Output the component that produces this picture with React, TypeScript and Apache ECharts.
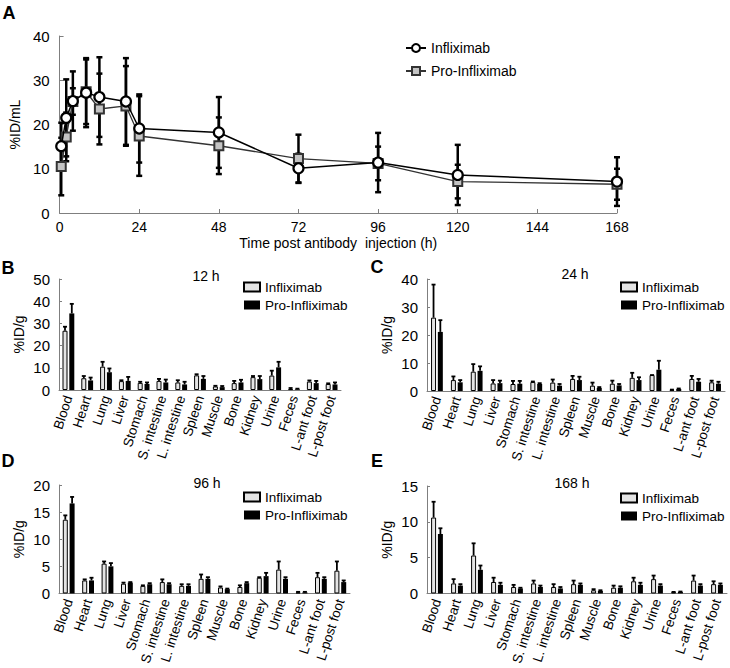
import React, { useEffect, useRef } from "react";
import * as echarts from "echarts";

const FONT = "'Liberation Sans', Arial, sans-serif";

// Panel A: blood kinetics
const timesA = [0.5, 2, 4, 8, 12, 20, 24, 48, 72, 96, 120, 168];
const inflixA = [15.1, 21.5, 25.3, 27.2, 26.2, 25.2, 19.1, 18.2, 10.1, 11.4, 8.6, 7.1];
const inflixSdA = [5.3, 8.7, 6.7, 7.8, 9.0, 9.8, 7.7, 8.0, 3.3, 6.7, 6.8, 5.5];
const proA = [10.5, 17.2, 25.2, 27.4, 23.5, 24.2, 17.4, 15.2, 12.3, 11.2, 7.1, 6.5];
const proSdA = [6.5, 5.5, 3.0, 7.3, 8.0, 9.0, 9.0, 6.4, 5.4, 3.8, 3.8, 3.5];

// Biodistribution
const organs = ["Blood", "Heart", "Lung", "Liver", "Stomach", "S. intestine", "L. intestine", "Spleen", "Muscle", "Bone", "Kidney", "Urine", "Feces", "L-ant foot", "L-post foot"];

const inf12 = [26.7, 5.3, 10.5, 4.0, 3.2, 4.1, 3.4, 6.6, 1.6, 3.1, 5.8, 6.5, 0.4, 3.8, 2.7];
const infErr12 = [1.8, 1.0, 2.2, 0.4, 0.5, 0.9, 1.0, 0.5, 0.3, 1.0, 0.5, 2.2, 0.5, 0.5, 0.3];
const pro12 = [34.5, 4.3, 8.0, 4.1, 2.7, 3.4, 2.5, 5.0, 1.3, 3.4, 4.9, 10.2, 0.3, 3.1, 2.5];
const proErr12 = [4.3, 1.3, 1.7, 1.8, 0.7, 1.3, 1.2, 1.3, 0.5, 1.2, 1.4, 2.5, 0.3, 1.0, 0.9];

const inf24 = [26.2, 3.9, 6.9, 2.7, 2.5, 3.2, 3.0, 4.3, 1.9, 2.6, 4.7, 5.7, 0.4, 4.3, 3.1];
const infErr24 = [11.8, 1.3, 2.7, 1.2, 1.1, 0.2, 1.1, 1.1, 1.1, 1.1, 1.8, 0, 0.1, 1.1, 0.6];
const pro24 = [21.1, 3.1, 7.2, 2.8, 2.6, 2.5, 1.9, 3.9, 1.1, 2.0, 3.9, 7.6, 0.7, 3.3, 2.6];
const proErr24 = [4.2, 0.8, 1.6, 0.9, 1.0, 0.3, 0.6, 1.2, 0.3, 0.5, 1.0, 3.2, 0.2, 1.0, 0.7];

const inf96 = [13.6, 2.4, 5.5, 1.8, 1.4, 2.1, 1.4, 2.7, 1.1, 1.2, 2.9, 4.4, 0.2, 3.0, 4.2];
const infErr96 = [0.8, 0.2, 0.4, 0.2, 0.1, 0.5, 0.3, 0.8, 0.2, 0.3, 0.1, 1.5, 0.1, 0.8, 1.7];
const pro96 = [16.6, 2.4, 5.0, 2.0, 1.7, 1.7, 1.4, 2.7, 0.8, 1.9, 3.2, 2.7, 0.2, 2.7, 2.1];
const proErr96 = [1.2, 0.5, 0.6, 0.1, 0.2, 0.2, 0.3, 0.3, 0.1, 0.2, 0.6, 0.3, 0.1, 0.3, 0.3];

const inf168 = [10.6, 1.4, 5.3, 1.6, 0.9, 1.4, 0.9, 1.3, 0.45, 0.8, 1.7, 2.0, 0.18, 1.8, 1.3];
const infErr168 = [2.2, 0.6, 1.7, 0.6, 0.3, 0.4, 0.4, 0.5, 0.15, 0.3, 0.5, 0.5, 0.04, 0.7, 0.4];
const pro168 = [8.3, 1.1, 3.3, 1.2, 0.7, 0.9, 0.7, 1.2, 0.36, 0.8, 1.2, 1.1, 0.22, 1.1, 1.2];
const proErr168 = [0.8, 0.2, 0.6, 0.3, 0.1, 0.2, 0.2, 0.2, 0.09, 0.2, 0.3, 0.2, 0.05, 0.2, 0.2];

const AXIS_GRAY = "#7f7f7f";

function lineErr(x: number[], m: number[], sd: number[]) {
  return x.map((t, i) => [t, m[i] - sd[i], m[i] + sd[i]]);
}

function buildOption() {
  const grids: any[] = [
    { left: 59, top: 36, width: 558, height: 177 },
    { left: 59, top: 279, width: 282, height: 111 },
    { left: 427, top: 279, width: 298, height: 112 },
    { left: 59, top: 485, width: 291, height: 111 },
    { left: 427, top: 486, width: 300, height: 110 },
  ];
  const xAxes: any[] = [];
  const yAxes: any[] = [];
  const series: any[] = [];
  const legends: any[] = [];
  const graphics: any[] = [];

  // Panel A axes
  xAxes.push({
    type: "value", gridIndex: 0, min: 0, max: 168, interval: 24,
    name: "Time post antibody  injection (h)", nameLocation: "middle", nameGap: 23,
    nameTextStyle: { fontSize: 14, color: "#000", fontFamily: FONT },
    axisLine: { show: true, lineStyle: { color: AXIS_GRAY, width: 1 } },
    axisTick: { show: true, inside: true, length: 4, lineStyle: { color: AXIS_GRAY } },
    axisLabel: { fontSize: 14, color: "#000", fontFamily: FONT, margin: 7 },
    splitLine: { show: false },
  });
  yAxes.push({
    type: "value", gridIndex: 0, min: 0, max: 40, interval: 10,
    name: "%ID/mL", nameLocation: "middle", nameGap: 35,
    nameTextStyle: { fontSize: 14, color: "#000", fontFamily: FONT },
    axisLine: { show: true, lineStyle: { color: AXIS_GRAY, width: 1 } },
    axisTick: { show: true, inside: true, length: 4, lineStyle: { color: AXIS_GRAY } },
    axisLabel: { fontSize: 15, color: "#000", fontFamily: FONT, margin: 10 },
    splitLine: { show: false },
  });

  const errRender = (width: number) => (params: any, api: any) => {
    const x = api.value(0);
    const lo = api.coord([x, api.value(1)]);
    const hi = api.coord([x, api.value(2)]);
    const st = { stroke: "#000", lineWidth: width };
    return {
      type: "group",
      children: [
        { type: "line", shape: { x1: lo[0], y1: lo[1], x2: hi[0], y2: hi[1] }, style: st },
        { type: "line", shape: { x1: lo[0] - 3, y1: lo[1], x2: lo[0] + 3, y2: lo[1] }, style: st },
        { type: "line", shape: { x1: hi[0] - 3, y1: hi[1], x2: hi[0] + 3, y2: hi[1] }, style: st },
      ],
    };
  };

  series.push({
    type: "custom", name: "errInfA", xAxisIndex: 0, yAxisIndex: 0, z: 1,
    renderItem: errRender(2.5), data: lineErr(timesA, inflixA, inflixSdA),
  });
  series.push({
    type: "custom", name: "errProA", xAxisIndex: 0, yAxisIndex: 0, z: 1,
    renderItem: errRender(2.5), data: lineErr(timesA, proA, proSdA),
  });
  series.push({
    type: "line", name: "Pro-Infliximab", xAxisIndex: 0, yAxisIndex: 0, z: 3,
    data: timesA.map((t, i) => [t, proA[i]]),
    symbol: "rect", symbolSize: 9,
    itemStyle: { color: "#c4c4c4", borderColor: "#333", borderWidth: 2 },
    lineStyle: { color: "#333", width: 1.3 },
  });
  series.push({
    type: "line", name: "Infliximab", xAxisIndex: 0, yAxisIndex: 0, z: 4,
    data: timesA.map((t, i) => [t, inflixA[i]]),
    symbol: "circle", symbolSize: 10,
    itemStyle: { color: "#fff", borderColor: "#000", borderWidth: 2.2 },
    lineStyle: { color: "#000", width: 1.5 },
  });
  legends.push({
    data: ["Infliximab", "Pro-Infliximab"], orient: "vertical", left: 405, top: 41, padding: 0,
    itemWidth: 20, itemHeight: 10, itemGap: 9,
    textStyle: { fontSize: 14, color: "#000", fontFamily: FONT },
  });

  const panels = [
    { key: "B", time: "12 h", max: 50, interval: 10, inf: inf12, infErr: infErr12, pro: pro12, proErr: proErr12 },
    { key: "C", time: "24 h", max: 40, interval: 10, inf: inf24, infErr: infErr24, pro: pro24, proErr: proErr24 },
    { key: "D", time: "96 h", max: 20, interval: 5, inf: inf96, infErr: infErr96, pro: pro96, proErr: proErr96 },
    { key: "E", time: "168 h", max: 15, interval: 5, inf: inf168, infErr: infErr168, pro: pro168, proErr: proErr168 },
  ];
  const titlePos = [[206, 276], [575, 274], [207, 483], [572, 483]];
  const legendPos = [[243, 280], [620, 280], [243, 490], [620, 491]];

  const barErrRender = (offset: number) => (params: any, api: any) => {
    const c = api.value(0);
    const base = api.coord([c, api.value(1)]);
    const top = api.coord([c, api.value(1) + api.value(2)]);
    const x = base[0] + offset;
    const st = { stroke: "#000", lineWidth: 1.8 };
    return {
      type: "group",
      children: [
        { type: "line", shape: { x1: x, y1: base[1], x2: x, y2: top[1] }, style: st },
        { type: "line", shape: { x1: x - 2, y1: top[1], x2: x + 2, y2: top[1] }, style: st },
      ],
    };
  };

  panels.forEach((p, k) => {
    const gi = k + 1;
    xAxes.push({
      type: "category", gridIndex: gi, data: organs,
      axisLine: { show: true, lineStyle: { color: AXIS_GRAY, width: 1 } },
      axisTick: { show: false },
      axisLabel: { rotate: 72, interval: 0, fontSize: 13.5, color: "#000", fontFamily: FONT, margin: 6 },
      splitLine: { show: false },
    });
    yAxes.push({
      type: "value", gridIndex: gi, min: 0, max: p.max, interval: p.interval,
      name: "%ID/g", nameLocation: "middle", nameGap: 33,
      nameTextStyle: { fontSize: 14, color: "#000", fontFamily: FONT },
      axisLine: { show: true, lineStyle: { color: AXIS_GRAY, width: 1 } },
      axisTick: { show: true, inside: true, length: 3, lineStyle: { color: AXIS_GRAY } },
      axisLabel: { fontSize: 15, color: "#000", fontFamily: FONT, margin: 9 },
      splitLine: { show: false },
    });
    const infName = "Infliximab|" + p.key;
    const proName = "Pro-Infliximab|" + p.key;
    series.push({
      type: "bar", name: infName, xAxisIndex: gi, yAxisIndex: gi,
      data: p.inf, barWidth: 5, barGap: "36%",
      itemStyle: { color: "#e4e4e4", borderColor: "#000", borderWidth: 1 },
    });
    series.push({
      type: "bar", name: proName, xAxisIndex: gi, yAxisIndex: gi,
      data: p.pro, barWidth: 5, barGap: "36%",
      itemStyle: { color: "#000", borderColor: "#000", borderWidth: 0 },
    });
    series.push({
      type: "custom", name: "errInf" + p.key, xAxisIndex: gi, yAxisIndex: gi, z: 5,
      renderItem: barErrRender(-3.4), data: p.inf.map((v, i) => [i, v, p.infErr[i]]),
    });
    series.push({
      type: "custom", name: "errPro" + p.key, xAxisIndex: gi, yAxisIndex: gi, z: 5,
      renderItem: barErrRender(3.4), data: p.pro.map((v, i) => [i, v, p.proErr[i]]),
    });
    legends.push({
      data: [infName, proName], orient: "vertical",
      left: legendPos[k][0], top: legendPos[k][1], padding: 0,
      itemWidth: 16, itemHeight: 9, itemGap: 4,
      icon: "rect",
      formatter: (n: string) => n.split("|")[0],
      textStyle: { fontSize: 13.5, color: "#000", fontFamily: FONT },
    });
    graphics.push({
      type: "text", x: titlePos[k][0], y: titlePos[k][1],
      style: { text: p.time, fontSize: 14, fill: "#000", fontFamily: FONT, align: "center", verticalAlign: "middle" },
    });
  });

  const letters = [["A", 9, 13], ["B", 8, 268], ["C", 377, 267], ["D", 8, 461], ["E", 377, 461]];
  letters.forEach(([t, x, y]) => {
    graphics.push({
      type: "text", x, y,
      style: { text: t, fontSize: 18, fontWeight: "bold", fill: "#000", fontFamily: FONT, align: "center", verticalAlign: "middle" },
    });
  });

  return {
    animation: false,
    backgroundColor: "#fff",
    textStyle: { fontFamily: FONT },
    grid: grids,
    xAxis: xAxes,
    yAxis: yAxes,
    legend: legends,
    series,
    graphic: graphics,
  };
}

export default function App() {
  const ref = useRef<HTMLDivElement>(null);
  useEffect(() => {
    if (!ref.current) return;
    const chart = echarts.init(ref.current, undefined, { renderer: "svg" });
    chart.setOption(buildOption() as any);
    return () => chart.dispose();
  }, []);
  return (
    <div
      ref={ref}
      style={{ position: "absolute", left: 0, top: 0, width: 730, height: 668, background: "#fff" }}
    />
  );
}
